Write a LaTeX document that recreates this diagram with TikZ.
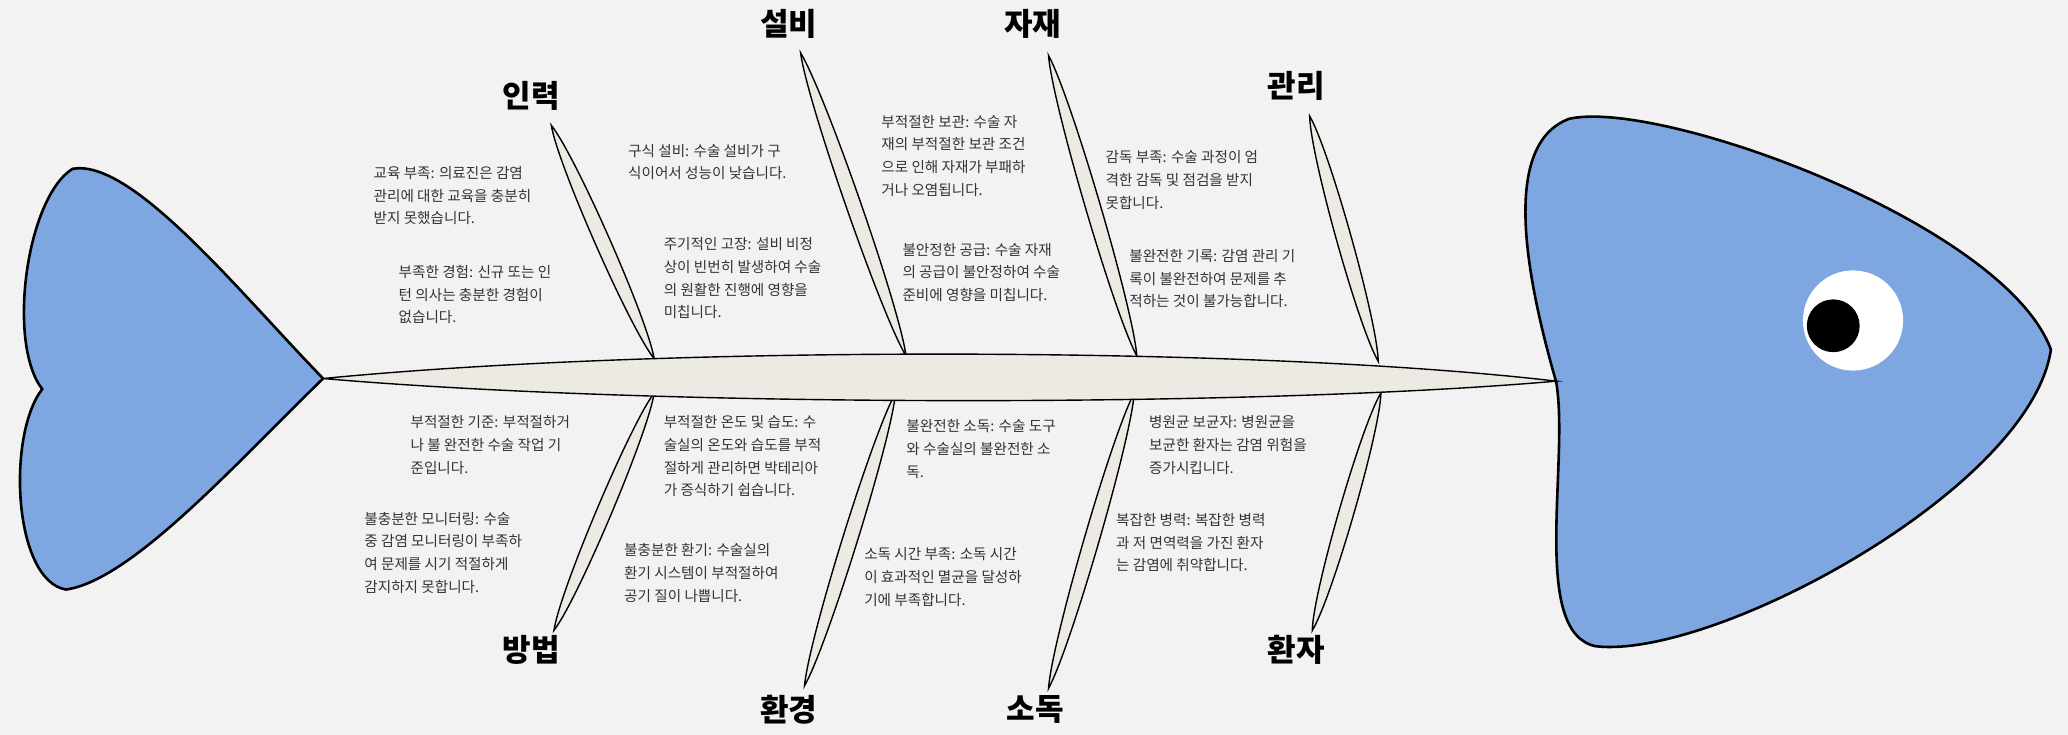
\documentclass[tikz,border=0pt]{standalone}
\usepackage{fontspec}
\setmainfont{Noto Sans CJK KR}
\usetikzlibrary{calc}
\definecolor{bg}{HTML}{F2F2F2}
\definecolor{fishblue}{HTML}{7EA6E0}
\definecolor{bonefill}{HTML}{ECEAE3}
\definecolor{txtc}{HTML}{333333}
\tikzset{
  txt/.style={anchor=north west,align=left,inner sep=0pt,text=txtc,font=\fontsize{7.3}{11.3}\selectfont},
  lbl/.style={inner sep=0pt,font=\fontsize{15.5}{17}\selectfont\bfseries},
  fishpart/.style={draw=black,line width=1.3pt,fill=fishblue},
  bonestyle/.style={draw=black,line width=0.7pt,fill=bonefill},
}
\newcommand{\mybone}[3]{%
  \coordinate (#1a) at #2; \coordinate (#1b) at #3;
  \draw[bonestyle] (#1a) .. controls ($(#1a)!0.15!(#1b)!5pt!90:(#1b)$) and ($(#1a)!0.85!(#1b)!5pt!90:(#1b)$) .. (#1b) .. controls ($(#1a)!0.85!(#1b)!5pt!-90:(#1b)$) and ($(#1a)!0.15!(#1b)!5pt!-90:(#1b)$) .. (#1a) -- cycle;}
\begin{document}
\begin{tikzpicture}[x=0.6595pt,y=-0.6595pt]
\fill[bg] (0,0) rectangle (1568,557);
\useasboundingbox (0,0) rectangle (1568,557);
% tail
\draw[fishpart] (245,287) .. controls (180,220) and (100,120) .. (55,128)
  .. controls (20,150) and (5,260) .. (32,295)
  .. controls (5,330) and (10,440) .. (50,447)
  .. controls (100,440) and (180,350) .. (245,287) -- cycle;
% head
\draw[fishpart] (1180,290) .. controls (1160,220) and (1135,110) .. (1190,90)
  .. controls (1260,75) and (1520,170) .. (1555,265)
  .. controls (1540,370) and (1300,500) .. (1210,490)
  .. controls (1160,480) and (1190,350) .. (1180,290) -- cycle;
\node[circle,fill=white,minimum size=50.1pt,inner sep=0pt] (eye) at (1405,243) {};
\node[circle,fill=black,minimum size=26.4pt,inner sep=0pt] (pupil) at (1390,247) {};
% bones
\mybone{b1}{(418,95)}{(496,272)}
\mybone{b2}{(607,40)}{(687,270)}
\mybone{b3}{(795,42)}{(862,270)}
\mybone{b4}{(993,88)}{(1045,274)}
\mybone{b5}{(496,298)}{(420,478)}
\mybone{b6}{(679,298)}{(610,520)}
\mybone{b7}{(860,298)}{(795,522)}
\mybone{b8}{(1047,298)}{(995,478)}
% spine
\draw[bonestyle] (245,287) .. controls (500,262) and (950,262) .. (1180,289)
  .. controls (950,309) and (500,309) .. (245,287) -- cycle;
% labels
\node[lbl] (l1) at (403,73) {인력};
\node[lbl] (l2) at (598,18) {설비};
\node[lbl] (l3) at (783,18) {자재};
\node[lbl] (l4) at (983,65) {관리};
\node[lbl] (l5) at (403,493) {방법};
\node[lbl] (l6) at (598,538) {환경};
\node[lbl] (l7) at (785,538) {소독};
\node[lbl] (l8) at (983,493) {환자};
% texts
\node[txt] (t1) at (283,126) {교육 부족: 의료진은 감염\\관리에 대한 교육을 충분히\\받지 못했습니다.};
\node[txt] (t2) at (302,201) {부족한 경험: 신규 또는 인\\턴 의사는 충분한 경험이\\없습니다.};
\node[txt] (t3) at (476,109) {구식 설비: 수술 설비가 구\\식이어서 성능이 낮습니다.};
\node[txt] (t4) at (503,180) {주기적인 고장: 설비 비정\\상이 빈번히 발생하여 수술\\의 원활한 진행에 영향을\\미칩니다.};
\node[txt] (t5) at (668,87) {부적절한 보관: 수술 자\\재의 부적절한 보관 조건\\으로 인해 자재가 부패하\\거나 오염됩니다.};
\node[txt] (t6) at (684,184) {불안정한 공급: 수술 자재\\의 공급이 불안정하여 수술\\준비에 영향을 미칩니다.};
\node[txt] (t7) at (838,114) {감독 부족: 수술 과정이 엄\\격한 감독 및 점검을 받지\\못합니다.};
\node[txt] (t8) at (856,189) {불완전한 기록: 감염 관리 기\\록이 불완전하여 문제를 추\\적하는 것이 불가능합니다.};
\node[txt] (t9) at (311,315) {부적절한 기준: 부적절하거\\나 불 완전한 수술 작업 기\\준입니다.};
\node[txt] (t10) at (276,388) {불충분한 모니터링: 수술\\중 감염 모니터링이 부족하\\여 문제를 시기 적절하게\\감지하지 못합니다.};
\node[txt] (t11) at (503,315) {부적절한 온도 및 습도: 수\\술실의 온도와 습도를 부적\\절하게 관리하면 박테리아\\가 증식하기 쉽습니다.};
\node[txt] (t12) at (473,412) {불충분한 환기: 수술실의\\환기 시스템이 부적절하여\\공기 질이 나쁩니다.};
\node[txt] (t13) at (687,318) {불완전한 소독: 수술 도구\\와 수술실의 불완전한 소\\독.};
\node[txt] (t14) at (655,415) {소독 시간 부족: 소독 시간\\이 효과적인 멸균을 달성하\\기에 부족합니다.};
\node[txt] (t15) at (871,315) {병원균 보균자: 병원균을\\보균한 환자는 감염 위험을\\증가시킵니다.};
\node[txt] (t16) at (846,389) {복잡한 병력: 복잡한 병력\\과 저 면역력을 가진 환자\\는 감염에 취약합니다.};
\end{tikzpicture}
\end{document}
